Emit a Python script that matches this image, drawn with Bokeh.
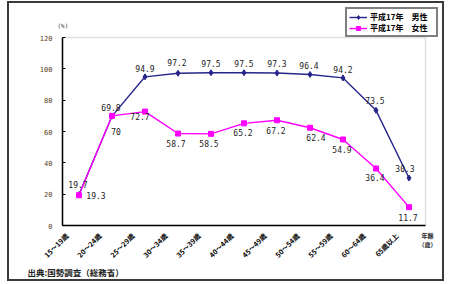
from bokeh.plotting import figure
from bokeh.models import (ColumnDataSource, LabelSet, Label, Legend, LegendItem,
                          FixedTicker, LinearAxis, BoxAnnotation, Range1d)
from bokeh.embed import file_html
from bokeh.resources import INLINE
from bokeh.core.properties import value
import math

ages = ["15～19歳", "20～24歳", "25～29歳", "30～34歳", "35～39歳", "40～44歳",
        "45～49歳", "50～54歳", "55～59歳", "60～64歳", "65歳以上"]
male = [19.7, 69.8, 94.9, 97.2, 97.5, 97.5, 97.3, 96.4, 94.2, 73.5, 30.3]
female = [19.3, 70.0, 72.7, 58.7, 58.5, 65.2, 67.2, 62.4, 54.9, 36.4, 11.7]
male_name = "平成17年　男性"
female_name = "平成17年　女性"
y_ticks = [0, 20, 40, 60, 80, 100, 120]
y_max = 120

JP = "Noto Sans CJK JP"
MONO = "DejaVu Sans Mono"

# layout (canvas pixels)
W, H = 433, 276
PX_LEFT, PLOT_W = 53, 363
PX_TOP, PLOT_H = 34, 188
PX_RIGHT = W - PX_LEFT - PLOT_W
PX_BOTTOM = H - PX_TOP - PLOT_H
n = len(ages)
x_per = PLOT_W / n
y_per = PLOT_H / y_max
xr = Range1d(-0.5 - PX_LEFT / x_per, n - 0.5 + PX_RIGHT / x_per)
yr = Range1d(-PX_BOTTOM / y_per, y_max + PX_TOP / y_per)

p = figure(x_range=xr, y_range=yr, width=W, height=H,
           frame_width=W, frame_height=H, min_border=0,
           x_axis_location=None, y_axis_location=None,
           output_backend="svg", toolbar_location=None)
p.styles = {"margin-left": "7px", "margin-top": "1px", "border": "2px solid #3a3a3a"}
p.xgrid.visible = False
p.ygrid.visible = False
p.outline_line_color = None

# plot area outline
p.add_layout(BoxAnnotation(left=-0.5, right=n - 0.5, bottom=0, top=y_max,
                           fill_alpha=0, line_color="#9a9a9a", line_width=1.5,
                           level="underlay"))

yaxis = LinearAxis(fixed_location=-0.5, bounds=(0, y_max), ticker=FixedTicker(ticks=y_ticks))
yaxis.axis_line_color = "black"
yaxis.axis_line_width = 1.5
yaxis.major_tick_in = 3
yaxis.major_tick_out = 0
yaxis.minor_tick_line_color = None
yaxis.major_label_text_font = MONO
yaxis.major_label_text_font_size = "7px"
yaxis.major_label_text_color = "#5a4020"
yaxis.major_label_standoff = 10
p.add_layout(yaxis, "left")

xaxis = LinearAxis(fixed_location=0, bounds=(-0.5, n - 0.5), ticker=FixedTicker(ticks=[]))
xaxis.axis_line_color = "black"
xaxis.axis_line_width = 1.5
xaxis.major_tick_line_color = None
xaxis.minor_tick_line_color = None
xaxis.major_label_text_font_size = "0px"
p.add_layout(xaxis, "below")

def fmt(v):
    return f"{v:.0f}" if v == int(v) else f"{v:g}"

src = ColumnDataSource(dict(x=list(range(n)), age=ages, male=male, female=female,
                            zero=[0] * n,
                            mlab=[fmt(v) for v in male],
                            flab=[fmt(v) for v in female]))

ml = p.line("x", "male", source=src, color="#26268a", line_width=1.4)
mm = p.scatter("x", "male", source=src, marker="diamond", size=6, color="#26268a")
fl = p.line("x", "female", source=src, color="#ff00ff", line_width=1.4)
fm = p.scatter("x", "female", source=src, marker="square", size=5, color="#ff00ff")

# category labels (rotated)
p.add_layout(LabelSet(x="x", y="zero", text="age", source=src,
                      x_offset=-12, y_offset=-9, angle=math.pi / 4,
                      text_align="right", text_baseline="middle",
                      text_font=value(JP), text_font_size="7px",
                      text_font_style="bold", text_color="black"))

# label offsets (styling)
src.data["mdx"] = [-1, -1, 0, -1, 0, 0, 0, -1, 0, -1, -4]
src.data["mdy"] = [7, 5, 5, 7, 6, 6, 6, 5, 5, 6, 6]
src.data["fdx"] = [17, 4, -5, -2, -2, -1, -1, 6, -1, -1, -1]
src.data["fdy"] = [3, -12, -1, -6, -6, -6, -7, -6, -7, -6, -7]

p.add_layout(LabelSet(x="x", y="male", text="mlab", source=src,
                      x_offset="mdx", y_offset="mdy",
                      text_align="center", text_baseline="bottom",
                      text_font=value(MONO), text_font_size="8px", text_color="#222"))
p.add_layout(LabelSet(x="x", y="female", text="flab", source=src,
                      x_offset="fdx", y_offset="fdy",
                      text_align="center", text_baseline="top",
                      text_font=value(MONO), text_font_size="8px", text_color="#222"))

legend = Legend(items=[LegendItem(label=male_name, renderers=[ml, mm]),
                       LegendItem(label=female_name, renderers=[fl, fm])],
                location=(336, 242), orientation="vertical",
                label_text_font=JP, label_text_font_size="8px",
                label_text_font_style="bold", label_text_color="black",
                label_height=10, glyph_height=10, glyph_width=18, label_width=64,
                spacing=0, padding=2, margin=0,
                border_line_color="black", border_line_width=2,
                label_standoff=3, background_fill_color="white", background_fill_alpha=1)
p.add_layout(legend, "center")

p.add_layout(Label(x=-0.5, y=y_max, x_offset=-5, y_offset=12, text="(%)",
                   text_font=MONO, text_font_size="6px", text_color="#333",
                   text_align="left", text_baseline="middle"))
p.add_layout(Label(x=n - 0.5, y=0, x_offset=2, y_offset=-10, text="年齢",
                   text_font=JP, text_font_size="6px", text_color="#222",
                   text_font_style="bold", text_align="center", text_baseline="middle"))
p.add_layout(Label(x=n - 0.5, y=0, x_offset=2, y_offset=-19, text="（歳）",
                   text_font=JP, text_font_size="6px", text_color="#222",
                   text_font_style="bold", text_align="center", text_baseline="middle"))
p.add_layout(Label(x=-0.5, y=0, x_offset=-35, y_offset=-46,
                   text="出典:国勢調査（総務省）",
                   text_font=JP, text_font_size="8.5px", text_color="#222",
                   text_font_style="bold", text_align="left", text_baseline="middle"))

open("out.html", "w").write(file_html(p, INLINE))
